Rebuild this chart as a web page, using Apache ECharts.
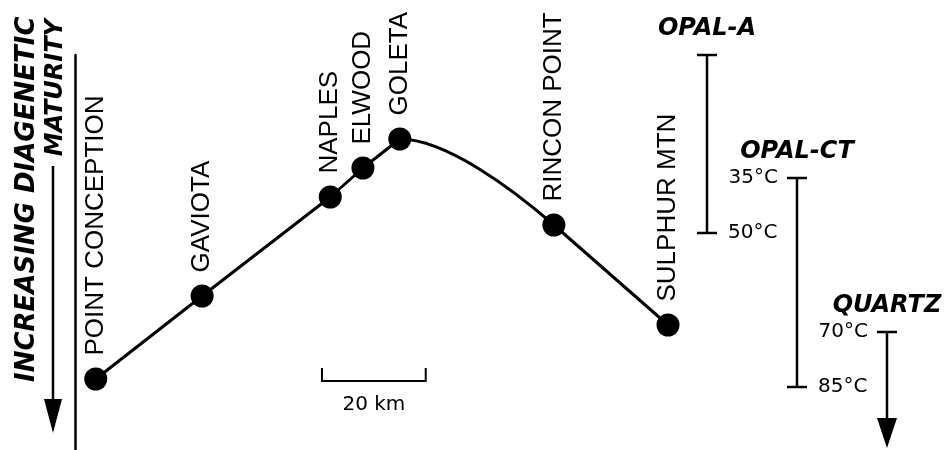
<!DOCTYPE html>
<html>
<head>
<meta charset="utf-8">
<script src="https://cdn.jsdelivr.net/npm/echarts@6/dist/echarts.min.js"></script>
<style>
html,body{margin:0;padding:0;background:#fff;}
#chart{width:949px;height:450px;}
</style>
</head>
<body>
<div id="chart"></div>
<script>
// ---- data ----
var stations = ['POINT CONCEPTION', 'GAVIOTA', 'NAPLES', 'ELWOOD', 'GOLETA', 'RINCON POINT', 'SULPHUR MTN'];
var distanceKm = [0, 20.5, 45.2, 51.5, 58.6, 88.3, 110.3];
var maturity = [64.8, 48.2, 28.4, 22.6, 16.8, 34.0, 54.0];
var straightCount = 5; // Point Conception .. Goleta joined by straight segments
var phases = ['OPAL-A', 'OPAL-CT', 'QUARTZ'];
var phaseTop = [0, 24.6, 55.4];
var phaseBottom = [35.6, 66.4, 78.6];
var phaseTopTemp = ['', '35°C', '70°C'];
var phaseBottomTemp = ['50°C', '85°C', ''];
var phaseOpenEnded = [false, false, true];
var scaleBarStartKm = [43.6];
var scaleBarLevel = [65.2];
var scaleBarLengthKm = [20];
var scaleBarLabel = ['20 km'];
var axisTitle1 = 'INCREASING DIAGENETIC';
var axisTitle2 = 'MATURITY';

var chart = echarts.init(document.getElementById('chart'));

var stationData = stations.map(function (n, i) { return { name: n, value: [distanceKm[i], maturity[i]] }; });
var straightData = stationData.slice(0, straightCount).map(function (d) { return d.value; });
var curveData = stationData.slice(straightCount - 1).map(function (d) { return d.value; });
var phaseData = phases.map(function (p, i) { return [i, phaseTop[i], phaseBottom[i]]; });
var scaleData = scaleBarStartKm.map(function (s, i) { return [s, scaleBarLevel[i], scaleBarLengthKm[i]]; });

var black = '#000';

var option = {
  animation: false,
  backgroundColor: '#fff',
  grid: [
    { left: 75, right: 75, top: 55, bottom: 0 },
    { left: 662, width: 270, top: 55, bottom: 0 }
  ],
  xAxis: [
    { type: 'value', gridIndex: 0, min: -4, max: 150, show: false },
    { type: 'category', gridIndex: 1, data: phases, show: false }
  ],
  yAxis: [
    { type: 'value', gridIndex: 0, min: 0, max: 79, inverse: true,
      axisLine: { show: true, onZero: false, lineStyle: { color: black, width: 2.5 } },
      axisTick: { show: false }, axisLabel: { show: false }, splitLine: { show: false } },
    { type: 'value', gridIndex: 1, min: 0, max: 79, inverse: true, show: false }
  ],
  graphic: [
    { type: 'text', x: 27, y: 382, rotation: Math.PI / 2,
      style: { text: axisTitle1, font: 'italic bold 26px "DejaVu Sans"', fill: black, align: 'left', verticalAlign: 'middle' } },
    { type: 'text', x: 56, y: 19, rotation: Math.PI / 2,
      style: { text: axisTitle2, font: 'italic bold 24px "DejaVu Sans"', fill: black, align: 'right', verticalAlign: 'middle' } },
    { type: 'line', shape: { x1: 53, y1: 166, x2: 53, y2: 402 }, style: { stroke: black, lineWidth: 2.5 } },
    { type: 'polygon', shape: { points: [[44, 399], [62, 399], [53, 433]] }, style: { fill: black } }
  ],
  series: [
    {
      type: 'line', xAxisIndex: 0, yAxisIndex: 0, data: straightData,
      symbol: 'none', lineStyle: { color: black, width: 3 }, z: 2
    },
    {
      type: 'custom', xAxisIndex: 0, yAxisIndex: 0, data: curveData, z: 2,
      renderItem: function (params, api) {
        if (params.dataIndex !== 0) return { type: 'group', children: [] };
        var n = params.dataInsideLength;
        var pts = [];
        for (var i = 0; i < n; i++) pts.push(api.coord([api.value(0, i), api.value(1, i)]));
        var p0 = pts[0], p1 = pts[1], p2 = pts[2];
        var tx = p2[0] - p1[0], ty = p2[1] - p1[1];
        var tl = Math.sqrt(tx * tx + ty * ty);
        tx /= tl; ty /= tl;
        var seg = Math.sqrt(Math.pow(p1[0] - p0[0], 2) + Math.pow(p1[1] - p0[1], 2));
        var c1 = [p0[0] + 0.3 * (p1[0] - p0[0]), p0[1]];
        var c2 = [p1[0] - tx * 0.3 * seg, p1[1] - ty * 0.3 * seg];
        var d = 'M' + p0[0] + ' ' + p0[1] + ' C' + c1[0] + ' ' + c1[1] + ' ' + c2[0] + ' ' + c2[1] + ' ' + p1[0] + ' ' + p1[1];
        for (var k = 2; k < n; k++) d += ' L' + pts[k][0] + ' ' + pts[k][1];
        return { type: 'path', shape: { pathData: d }, style: { fill: null, stroke: black, lineWidth: 3 } };
      }
    },
    {
      type: 'scatter', xAxisIndex: 0, yAxisIndex: 0, data: stationData,
      symbol: 'circle', symbolSize: 23, itemStyle: { color: black, opacity: 1 }, z: 3,
      label: {
        show: true, position: 'top', distance: 12, rotate: 90, align: 'left', verticalAlign: 'middle',
        formatter: '{b}', fontSize: 26, fontFamily: '"Liberation Sans", Arial, sans-serif', color: black, opacity: 1
      }
    },
    {
      type: 'custom', xAxisIndex: 0, yAxisIndex: 0, data: scaleData, z: 2,
      renderItem: function (params, api) {
        var a = api.coord([api.value(0), api.value(1)]);
        var b = api.coord([api.value(0) + api.value(2), api.value(1)]);
        return { type: 'group', children: [
          { type: 'polyline', shape: { points: [[a[0], a[1] - 13], a, b, [b[0], b[1] - 13]] },
            style: { fill: null, stroke: black, lineWidth: 2 } },
          { type: 'text', x: (a[0] + b[0]) / 2, y: a[1] + 24,
            style: { text: scaleBarLabel[params.dataIndex], font: '20px "DejaVu Sans"', fill: black, align: 'center', verticalAlign: 'middle' } }
        ] };
      }
    },
    {
      type: 'custom', xAxisIndex: 1, yAxisIndex: 1, data: phaseData, z: 2,
      renderItem: function (params, api) {
        var i = params.dataIndex;
        var t = api.coord([api.value(0), api.value(1)]);
        var b = api.coord([api.value(0), api.value(2)]);
        var x = t[0], yT = t[1], yB = b[1];
        var open = phaseOpenEnded[i];
        var head = 30;
        var kids = [
          { type: 'line', shape: { x1: x, y1: yT, x2: x, y2: open ? yB - head + 2 : yB }, style: { stroke: black, lineWidth: 2.5 } },
          { type: 'line', shape: { x1: x - 10, y1: yT, x2: x + 10, y2: yT }, style: { stroke: black, lineWidth: 2.5 } },
          { type: 'text', x: x, y: yT - 26,
            style: { text: phases[i], font: 'italic bold 24px "DejaVu Sans"', fill: black, align: 'center', verticalAlign: 'middle' } }
        ];
        if (open) {
          kids.push({ type: 'polygon', shape: { points: [[x - 10, yB - head], [x + 10, yB - head], [x, yB]] }, style: { fill: black } });
        } else {
          kids.push({ type: 'line', shape: { x1: x - 10, y1: yB, x2: x + 10, y2: yB }, style: { stroke: black, lineWidth: 2.5 } });
        }
        if (phaseTopTemp[i]) {
          kids.push({ type: 'text', x: x - 19, y: yT,
            style: { text: phaseTopTemp[i], font: '20px "DejaVu Sans"', fill: black, align: 'right', verticalAlign: 'middle' } });
        }
        if (phaseBottomTemp[i]) {
          kids.push({ type: 'text', x: x + 21, y: yB,
            style: { text: phaseBottomTemp[i], font: '20px "DejaVu Sans"', fill: black, align: 'left', verticalAlign: 'middle' } });
        }
        return { type: 'group', children: kids };
      }
    }
  ]
};
chart.setOption(option);
</script>
</body>
</html>
